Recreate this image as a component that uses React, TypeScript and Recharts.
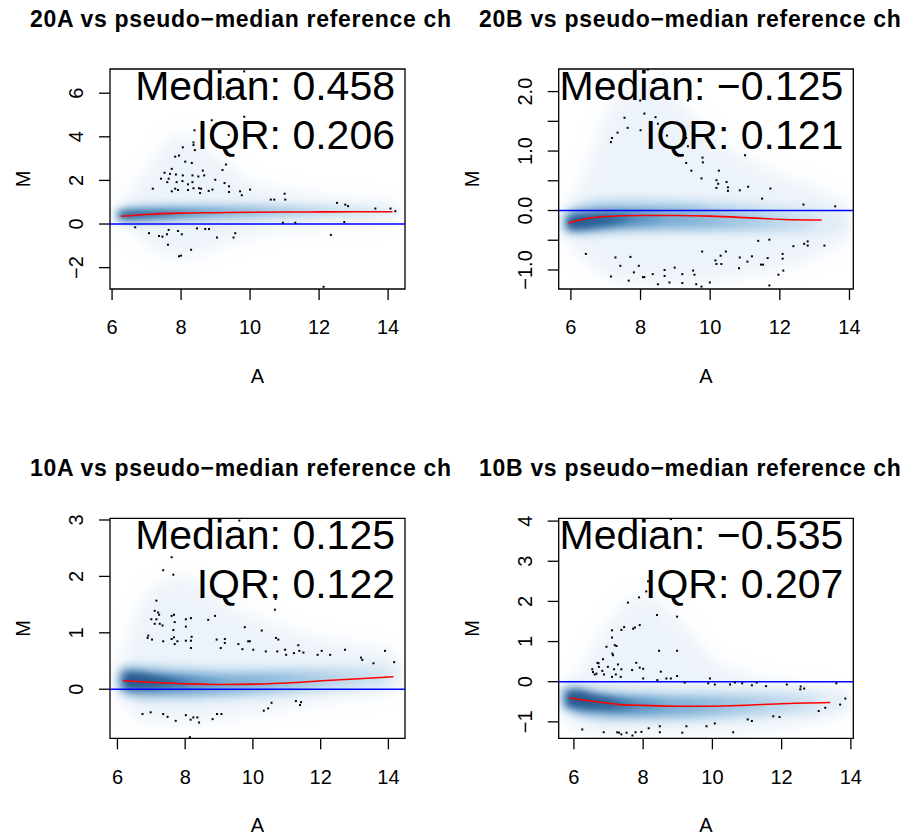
import React from "react";
import {
  ComposedChart,
  Area,
  Line,
  Scatter,
  XAxis,
  YAxis,
  ReferenceLine,
  ReferenceArea,
} from "recharts";

const FONT = '"Liberation Sans", Arial, Helvetica, sans-serif';

// ---- 20A ----
const P1_BAND_A = [6.1, 6.4, 7.0, 8.0, 9.0, 10.0, 11.0, 12.0, 13.0, 14.0, 14.4];
const P1_HALO_LO = [0.3, -0.1, -0.9, -1.6, -1.1, -0.6, -0.3, -0.2, -0.1, 0.1, 0.4];
const P1_HALO_HI = [0.6, 1.2, 2.5, 4.2, 3.2, 2.0, 1.6, 1.3, 1.1, 1.0, 0.8];
const P1_OUTER_LO = [0.2, 0.05, 0.05, 0.1, 0.15, 0.2, 0.25, 0.3, 0.3, 0.35, 0.45];
const P1_OUTER_HI = [0.6, 0.8, 0.9, 0.95, 0.95, 0.95, 0.9, 0.88, 0.85, 0.8, 0.7];
const P1_MID_A = [6.15, 6.4, 7.0, 8.0, 9.0, 10.0, 11.0, 12.0, 13.0, 14.0];
const P1_MID_LO = [0.25, 0.18, 0.2, 0.26, 0.32, 0.38, 0.42, 0.45, 0.48, 0.5];
const P1_MID_HI = [0.55, 0.66, 0.72, 0.75, 0.76, 0.75, 0.72, 0.7, 0.68, 0.65];
const P1_CORE_A = [6.2, 6.5, 7.0, 7.6, 8.4, 9.5];
const P1_CORE_LO = [0.3, 0.26, 0.3, 0.36, 0.42, 0.45];
const P1_CORE_HI = [0.5, 0.56, 0.58, 0.58, 0.6, 0.6];
const P1_LOESS_A = [6.26, 7.0, 8.0, 9.0, 10.0, 11.0, 12.0, 13.0, 14.13];
const P1_LOESS_M = [0.36, 0.44, 0.5, 0.52, 0.54, 0.55, 0.555, 0.56, 0.56];
const P1_POINTS = [
  [9.83, 7.0], [9.23, 5.82], [8.89, 4.76], [9.83, 4.92], [8.39, 4.3], [9.38, 4.09],
  [8.36, 3.74], [8.36, 3.62], [8.4, 3.39], [8.05, 3.52], [7.94, 3.14], [7.83, 3.09],
  [8.12, 2.86], [8.31, 2.8], [7.73, 2.53], [7.52, 2.35], [7.68, 2.3], [7.85, 2.27],
  [7.42, 2.08], [7.64, 2.08], [8.05, 2.23], [8.33, 2.23], [8.5, 2.18], [8.63, 2.45],
  [8.67, 2.23], [9.3, 2.73], [9.2, 2.48], [8.99, 2.03], [7.6, 1.92], [7.87, 1.92],
  [8.04, 1.97], [8.33, 1.92], [8.2, 1.82], [7.18, 1.62], [7.83, 1.62], [7.73, 1.5],
  [7.91, 1.56], [8.2, 1.56], [8.36, 1.64], [8.52, 1.64], [8.58, 1.62], [8.8, 1.52],
  [8.91, 1.58], [9.26, 1.88], [9.39, 1.73], [9.39, 1.47], [8.55, 1.42], [9.71, 1.5],
  [9.76, 1.32], [10.0, 1.58], [10.6, 1.12], [10.7, 1.12], [11.0, 1.39], [11.02, 1.12],
  [12.52, 0.97], [12.76, 0.89], [12.84, 0.82], [13.63, 0.71], [14.07, 0.71], [14.21, 0.59],
  [10.95, 0.06], [11.31, 0.06], [12.73, 0.09], [6.67, -0.15], [7.07, -0.42], [7.36, -0.55],
  [7.46, -0.58], [7.59, -0.47], [7.64, -0.27], [7.91, -0.32], [8.02, -0.47], [7.62, -0.95],
  [8.46, -0.2], [8.7, -0.23], [8.81, -0.23], [9.04, -0.62], [9.52, -0.62], [9.57, -0.42],
  [8.29, -1.18], [7.94, -1.48], [8.0, -1.45], [12.34, -0.5], [12.13, -2.88],
];

// ---- 20B ----
const P2_BAND_A = [5.75, 6.0, 6.5, 7.0, 8.0, 9.0, 10.0, 11.0, 12.0, 13.0, 14.0];
const P2_HALO_LO = [-0.3, -0.6, -0.9, -1.1, -1.25, -1.25, -1.2, -1.1, -1.0, -0.8, -0.5];
const P2_HALO_HI = [-0.1, 0.2, 0.8, 1.6, 2.2, 1.9, 1.3, 0.9, 0.6, 0.4, 0.1];
const P2_OUTER_LO = [-0.35, -0.4, -0.42, -0.4, -0.38, -0.38, -0.38, -0.38, -0.4, -0.42, -0.35];
const P2_OUTER_HI = [-0.05, 0.05, 0.15, 0.2, 0.22, 0.2, 0.18, 0.15, 0.12, 0.08, 0.0];
const P2_MID_A = [5.85, 6.0, 6.5, 7.0, 8.0, 9.0, 10.0, 11.0, 12.0, 13.0];
const P2_MID_LO = [-0.3, -0.34, -0.34, -0.32, -0.3, -0.3, -0.31, -0.32, -0.33, -0.32];
const P2_MID_HI = [-0.12, -0.04, 0.02, 0.05, 0.06, 0.06, 0.04, 0.01, -0.02, -0.06];
const P2_CORE_A = [5.9, 6.2, 6.6, 7.0, 7.8, 8.8];
const P2_CORE_LO = [-0.3, -0.32, -0.3, -0.27, -0.24, -0.22];
const P2_CORE_HI = [-0.12, -0.08, -0.05, -0.04, -0.03, -0.03];
const P2_LOESS_A = [5.93, 6.43, 7.0, 8.0, 9.03, 10.0, 11.04, 12.1, 13.2];
const P2_LOESS_M = [-0.21, -0.14, -0.1, -0.085, -0.085, -0.095, -0.12, -0.15, -0.16];
const P2_POINTS = [
  [8.21, 2.37], [9.36, 1.85], [7.99, 1.85], [7.54, 1.56], [8.11, 1.63], [8.43, 1.57],
  [7.63, 1.39], [7.34, 1.31], [7.18, 1.22], [7.15, 1.15], [8.0, 1.35], [8.5, 1.46],
  [8.76, 1.26], [9.31, 1.22], [9.36, 1.08], [9.22, 0.93], [9.78, 0.89], [9.79, 0.81],
  [11.0, 0.93], [9.31, 0.8], [9.46, 0.67], [9.75, 0.54], [10.25, 0.67], [10.18, 0.51],
  [10.23, 0.45], [10.18, 0.38], [10.47, 0.48], [10.51, 0.39], [10.51, 0.33], [10.85, 0.34],
  [11.09, 0.4], [11.73, 0.37], [11.49, 0.2], [12.68, 0.1], [13.59, 0.07],
  [6.43, -0.73], [7.28, -0.79], [7.71, -0.78], [7.42, -0.93], [7.95, -0.93], [7.81, -1.04],
  [7.15, -1.11], [7.66, -1.18], [8.07, -1.12], [8.11, -1.12], [8.35, -1.07], [8.5, -1.24],
  [8.69, -1.0], [8.69, -1.1], [8.83, -1.21], [8.98, -0.96], [9.2, -1.07], [9.2, -1.22],
  [9.51, -1.01], [9.55, -1.08], [9.6, -1.24], [9.75, -1.28], [9.99, -1.21], [9.77, -0.69],
  [10.15, -0.84], [10.18, -0.9], [10.3, -0.76], [10.45, -0.69], [10.32, -0.9], [10.85, -0.79],
  [10.83, -0.97], [11.07, -0.86], [11.2, -0.77], [11.38, -0.51], [11.46, -0.91], [11.52, -0.91],
  [11.65, -0.8], [11.7, -0.49], [11.7, -1.26], [11.96, -1.08], [12.08, -0.73], [12.08, -0.81],
  [12.1, -1.01], [12.39, -0.6], [12.7, -0.56], [12.8, -0.52], [12.8, -0.59], [13.28, -0.59],
];

// ---- 10A ----
const P3_BAND_A = [6.0, 6.3, 7.0, 8.0, 9.0, 10.0, 11.0, 12.0, 13.0, 14.0, 14.4];
const P3_HALO_LO = [0.05, -0.35, -0.6, -0.6, -0.55, -0.45, -0.35, -0.25, -0.15, -0.05, 0.05];
const P3_HALO_HI = [0.3, 0.9, 1.8, 2.0, 1.6, 1.3, 1.1, 0.9, 0.8, 0.7, 0.5];
const P3_OUTER_LO = [0.0, -0.15, -0.2, -0.2, -0.18, -0.15, -0.12, -0.08, -0.05, 0.0, 0.1];
const P3_OUTER_HI = [0.3, 0.45, 0.45, 0.42, 0.4, 0.4, 0.42, 0.44, 0.45, 0.45, 0.4];
const P3_MID_A = [6.05, 6.3, 7.0, 8.0, 9.0, 10.0, 11.0, 12.0, 13.0, 14.0];
const P3_MID_LO = [0.02, -0.06, -0.1, -0.1, -0.08, -0.05, -0.02, 0.02, 0.05, 0.08];
const P3_MID_HI = [0.28, 0.35, 0.32, 0.29, 0.27, 0.28, 0.3, 0.32, 0.34, 0.36];
const P3_CORE_A = [6.2, 6.5, 7.0, 7.5, 8.3, 9.3];
const P3_CORE_LO = [0.05, 0.0, 0.0, 0.02, 0.03, 0.04];
const P3_CORE_HI = [0.27, 0.3, 0.27, 0.23, 0.2, 0.18];
const P3_LOESS_A = [6.17, 7.1, 8.09, 9.07, 10.06, 11.04, 12.03, 13.01, 14.15];
const P3_LOESS_M = [0.15, 0.12, 0.095, 0.083, 0.09, 0.11, 0.15, 0.18, 0.22];
const P3_POINTS = [
  [9.6, 2.99], [7.6, 2.34], [7.35, 2.11], [7.65, 2.03], [7.15, 1.57], [7.1, 1.39],
  [7.2, 1.36], [7.0, 1.24], [7.15, 1.24], [7.23, 1.32], [7.1, 1.16], [7.25, 1.16],
  [7.33, 1.13], [7.6, 1.3], [7.67, 1.32], [7.69, 1.19], [7.65, 1.05], [7.35, 0.85],
  [7.6, 0.89], [7.69, 0.8], [7.77, 0.85], [7.67, 0.92], [6.89, 0.91], [6.91, 0.95],
  [7.02, 0.88], [8.02, 1.24], [8.17, 1.26], [8.02, 1.11], [8.19, 0.93], [8.17, 0.86],
  [8.17, 0.73], [8.02, 0.86], [8.68, 1.23], [8.88, 1.3], [8.93, 0.88], [9.17, 0.89],
  [9.05, 0.73], [9.17, 0.82], [9.76, 1.1], [10.26, 1.04], [9.57, 0.8], [9.69, 0.71],
  [9.86, 0.85], [9.91, 0.85], [10.01, 0.7], [10.67, 1.6], [10.65, 1.41], [10.38, 0.67],
  [10.68, 0.91], [10.75, 0.88], [10.72, 0.67], [10.95, 0.7], [10.98, 0.61], [11.21, 0.64],
  [11.34, 0.78], [11.37, 0.68], [11.49, 0.65], [11.91, 0.61], [12.03, 0.68], [12.28, 0.61],
  [12.72, 0.7], [13.19, 0.56], [13.23, 0.52], [13.56, 0.46], [13.9, 0.68], [14.17, 0.48],
  [6.74, -0.44], [6.98, -0.41], [7.35, -0.44], [7.48, -0.49], [7.72, -0.56], [8.02, -0.46],
  [8.16, -0.54], [8.24, -0.5], [8.36, -0.5], [8.41, -0.59], [8.14, -0.85], [8.81, -0.53],
  [8.94, -0.44], [9.07, -0.44], [10.32, -0.38], [10.45, -0.34], [10.55, -0.24], [11.27, -0.21],
  [11.39, -0.28], [11.42, -0.23],
];

// ---- 10B ----
const P4_BAND_A = [5.6, 5.9, 6.5, 7.0, 8.0, 9.0, 10.0, 11.0, 12.0, 13.0, 14.0];
const P4_HALO_LO = [-0.6, -1.1, -1.3, -1.35, -1.35, -1.35, -1.3, -1.25, -1.15, -1.0, -0.7];
const P4_HALO_HI = [-0.2, 0.0, 0.8, 1.5, 2.2, 1.6, 0.6, 0.2, 0.0, -0.1, -0.3];
const P4_OUTER_LO = [-0.6, -0.8, -0.95, -1.0, -1.0, -1.0, -0.98, -0.95, -0.9, -0.85, -0.7];
const P4_OUTER_HI = [-0.15, -0.05, -0.1, -0.15, -0.2, -0.22, -0.22, -0.22, -0.2, -0.2, -0.25];
const P4_MID_A = [5.7, 6.0, 6.5, 7.0, 8.0, 9.0, 10.0, 11.0, 12.0, 13.0];
const P4_MID_LO = [-0.6, -0.72, -0.8, -0.84, -0.86, -0.86, -0.84, -0.8, -0.76, -0.7];
const P4_MID_HI = [-0.2, -0.2, -0.28, -0.33, -0.36, -0.38, -0.37, -0.35, -0.33, -0.32];
const P4_CORE_A = [5.8, 6.1, 6.5, 7.0, 7.8, 8.8];
const P4_CORE_LO = [-0.6, -0.66, -0.7, -0.72, -0.75, -0.76];
const P4_CORE_HI = [-0.25, -0.2, -0.28, -0.36, -0.42, -0.45];
const P4_LOESS_A = [5.87, 6.36, 6.84, 7.32, 8.0, 8.96, 9.93, 10.89, 11.96, 13.4];
const P4_LOESS_M = [-0.4, -0.47, -0.52, -0.57, -0.59, -0.61, -0.61, -0.59, -0.55, -0.52];
const P4_POINTS = [
  [8.8, 4.05], [8.14, 2.5], [8.09, 2.25], [7.88, 2.1], [7.56, 1.97], [8.4, 1.66],
  [8.98, 1.62], [7.9, 1.41], [7.76, 1.35], [7.71, 1.32], [7.45, 1.36], [7.37, 1.29],
  [7.1, 1.28], [7.1, 1.1], [7.18, 0.91], [7.23, 0.89], [6.94, 0.87], [7.11, 0.7],
  [7.13, 0.66], [6.84, 0.56], [6.71, 0.46], [6.68, 0.47], [6.53, 0.31], [6.55, 0.24],
  [6.6, 0.18], [6.65, 0.2], [6.72, 0.37], [6.82, 0.27], [6.87, 0.18], [6.98, 0.37],
  [7.16, 0.31], [7.27, 0.43], [7.37, 0.31], [7.1, 0.12], [7.21, 0.18], [7.35, 0.12],
  [7.68, 0.29], [7.8, 0.47], [7.9, 0.35], [8.0, 0.32], [8.46, 0.77], [8.98, 0.77],
  [8.51, 0.25], [8.0, 0.08], [8.41, 0.04], [8.67, 0.08], [8.8, 0.08], [8.98, 0.14],
  [9.2, -0.02], [9.93, 0.08], [9.88, -0.04], [10.07, -0.07], [10.51, -0.07], [10.65, -0.02],
  [10.86, -0.04], [11.14, -0.09], [11.28, -0.02], [11.55, -0.11], [12.15, -0.07], [12.55, -0.12],
  [12.65, -0.17], [12.54, -0.19], [13.58, -0.04], [11.76, -0.86], [11.94, -0.88], [11.02, -0.94],
  [11.14, -0.98], [13.07, -0.73], [13.26, -0.65], [13.69, -0.57], [13.84, -0.42], [6.24, -1.19],
  [6.86, -1.26], [7.25, -1.26], [7.3, -1.27], [7.37, -1.31], [7.52, -1.27], [7.69, -1.34],
  [7.78, -1.26], [7.95, -1.25], [8.16, -1.16], [8.48, -1.26], [8.48, -1.11], [9.13, -1.27],
  [9.25, -1.11], [9.83, -1.11], [10.07, -1.04], [10.6, -1.26],
];

const X_TICKS = [6, 8, 10, 12, 14];

const band = (xs: number[], lo: number[], hi: number[]) =>
  xs.map((x, i) => ({ x, y: [lo[i], hi[i]] }));
const curve = (xs: number[], ys: number[]) => xs.map((x, i) => ({ x, y: ys[i] }));
const pts = (arr: number[][]) => arr.map(([x, y]) => ({ x, y }));

const minus = (s: string) => s.replace("-", "\u2212");
const intFmt = (v: number) => minus(String(v));
const halfFmt = (v: number) => (Number.isInteger(v) ? minus(v.toFixed(1)) : "");

const panels = [
  {
    key: "20A", left: 0, top: 0, titleX: 30,
    title: "20A vs pseudo\u2212median reference ch",
    median: "Median: 0.458", iqr: "IQR: 0.206",
    plot: { left: 110, right: 405, top: 69, bottom: 289 },
    xDomain: [5.94, 14.49], yDomain: [-2.98, 7.11],
    yTicks: [-2, 0, 2, 4, 6], yFmt: intFmt,
    halo: band(P1_BAND_A, P1_HALO_LO, P1_HALO_HI),
    outer: band(P1_BAND_A, P1_OUTER_LO, P1_OUTER_HI),
    mid: band(P1_MID_A, P1_MID_LO, P1_MID_HI),
    core: band(P1_CORE_A, P1_CORE_LO, P1_CORE_HI),
    loess: curve(P1_LOESS_A, P1_LOESS_M),
    points: pts(P1_POINTS),
  },
  {
    key: "20B", left: 455, top: 0, titleX: 24,
    title: "20B vs pseudo\u2212median reference ch",
    median: "Median: \u22120.125", iqr: "IQR: 0.121",
    plot: { left: 103.7, right: 398.3, top: 69, bottom: 289 },
    xDomain: [5.65, 14.11], yDomain: [-1.32, 2.38],
    yTicks: [-1, -0.5, 0, 0.5, 1, 1.5, 2], yFmt: halfFmt,
    halo: band(P2_BAND_A, P2_HALO_LO, P2_HALO_HI),
    outer: band(P2_BAND_A, P2_OUTER_LO, P2_OUTER_HI),
    mid: band(P2_MID_A, P2_MID_LO, P2_MID_HI),
    core: band(P2_CORE_A, P2_CORE_LO, P2_CORE_HI),
    loess: curve(P2_LOESS_A, P2_LOESS_M),
    points: pts(P2_POINTS),
  },
  {
    key: "10A", left: 0, top: 419, titleX: 30,
    title: "10A vs pseudo\u2212median reference ch",
    median: "Median: 0.125", iqr: "IQR: 0.122",
    plot: { left: 110, right: 405, top: 99.3, bottom: 319.3 },
    xDomain: [5.78, 14.49], yDomain: [-0.87, 3.03],
    yTicks: [0, 1, 2, 3], yFmt: intFmt,
    halo: band(P3_BAND_A, P3_HALO_LO, P3_HALO_HI),
    outer: band(P3_BAND_A, P3_OUTER_LO, P3_OUTER_HI),
    mid: band(P3_MID_A, P3_MID_LO, P3_MID_HI),
    core: band(P3_CORE_A, P3_CORE_LO, P3_CORE_HI),
    loess: curve(P3_LOESS_A, P3_LOESS_M),
    points: pts(P3_POINTS),
  },
  {
    key: "10B", left: 455, top: 419, titleX: 24,
    title: "10B vs pseudo\u2212median reference ch",
    median: "Median: \u22120.535", iqr: "IQR: 0.207",
    plot: { left: 103.7, right: 398.3, top: 99.3, bottom: 319.3 },
    xDomain: [5.56, 14.07], yDomain: [-1.41, 4.07],
    yTicks: [-1, 0, 1, 2, 3, 4], yFmt: intFmt,
    halo: band(P4_BAND_A, P4_HALO_LO, P4_HALO_HI),
    outer: band(P4_BAND_A, P4_OUTER_LO, P4_OUTER_HI),
    mid: band(P4_MID_A, P4_MID_LO, P4_MID_HI),
    core: band(P4_CORE_A, P4_CORE_LO, P4_CORE_HI),
    loess: curve(P4_LOESS_A, P4_LOESS_M),
    points: pts(P4_POINTS),
  },
];

const W = 455;
const H = 419;
const Y_AXIS_W = 60;
const X_AXIS_H = 50;

const Dot = (props: any) => (
  <rect x={props.cx - 1} y={props.cy - 1} width={2} height={2} fill="#000" />
);

const makeYTick = (fmt: (v: number) => string) => (props: any) => {
  const { x, y, payload } = props;
  return (
    <text
      x={x}
      y={y}
      transform={`rotate(-90 ${x} ${y})`}
      textAnchor="middle"
      fontSize={20}
      fontFamily={FONT}
      fill="#000"
    >
      {fmt(payload.value)}
    </text>
  );
};

const Panel = ({ p }: { p: (typeof panels)[number] }) => {
  const { plot } = p;
  const cx = (plot.left + plot.right) / 2;
  const cy = (plot.top + plot.bottom) / 2;
  return (
    <div style={{ position: "absolute", left: p.left, top: p.top, width: W, height: H }}>
      <ComposedChart
        width={W}
        height={H}
        margin={{
          top: plot.top,
          left: plot.left - Y_AXIS_W,
          right: W - plot.right,
          bottom: H - plot.bottom - X_AXIS_H,
        }}
      >
        <XAxis
          type="number"
          dataKey="x"
          domain={p.xDomain}
          allowDataOverflow
          ticks={X_TICKS}
          interval={0}
          height={X_AXIS_H}
          axisLine={false}
          tickLine={{ stroke: "#000", strokeWidth: 1.3 }}
          tickSize={11}
          tickMargin={20}
          tick={{ fontSize: 20, fill: "#000", fontFamily: FONT }}
        />
        <YAxis
          type="number"
          dataKey="y"
          domain={p.yDomain}
          allowDataOverflow
          ticks={p.yTicks}
          interval={0}
          width={Y_AXIS_W}
          axisLine={false}
          tickLine={{ stroke: "#000", strokeWidth: 1.3 }}
          tickSize={11}
          tickMargin={16}
          tick={makeYTick(p.yFmt)}
        />
        <Area
          className="cloud-soft"
          data={p.halo}
          dataKey="y"
          type="monotone"
          stroke="none"
          fill="#c6dbef"
          fillOpacity={0.32}
          isAnimationActive={false}
        />
        <Area
          className="cloud"
          data={p.outer}
          dataKey="y"
          type="monotone"
          stroke="none"
          fill="url(#outerFade)"
          isAnimationActive={false}
        />
        <Area
          className="cloud"
          data={p.mid}
          dataKey="y"
          type="monotone"
          stroke="none"
          fill="url(#midFade)"
          isAnimationActive={false}
        />
        <Area
          className="cloud-core"
          data={p.core}
          dataKey="y"
          type="monotone"
          stroke="none"
          fill="url(#coreFade)"
          isAnimationActive={false}
        />
        <ReferenceLine y={0} stroke="#0000ff" strokeWidth={1.6} />
        <Line
          data={p.loess}
          dataKey="y"
          type="monotone"
          stroke="#ff0000"
          strokeWidth={1.6}
          dot={false}
          isAnimationActive={false}
        />
        <Scatter data={p.points} dataKey="y" shape={Dot} isAnimationActive={false} />
        <ReferenceArea
          x1={p.xDomain[0]}
          x2={p.xDomain[1]}
          y1={p.yDomain[0]}
          y2={p.yDomain[1]}
          fill="none"
          stroke="#000"
          strokeWidth={1.3}
          ifOverflow="visible"
        />
      </ComposedChart>
      <svg
        width={W}
        height={H}
        style={{ position: "absolute", left: 0, top: 0, pointerEvents: "none" }}
        fontFamily={FONT}
      >
        <text x={p.titleX} y={plot.top - 42} fontSize={23} fontWeight="bold" letterSpacing={0.7}>
          {p.title}
        </text>
        <text x={plot.right - 10} y={plot.top + 31} textAnchor="end" fontSize={41}>
          {p.median}
        </text>
        <text x={plot.right - 10} y={plot.top + 80} textAnchor="end" fontSize={41}>
          {p.iqr}
        </text>
        <text x={cx} y={plot.bottom + 94} textAnchor="middle" fontSize={20}>
          A
        </text>
        <text
          x={plot.left - 80}
          y={cy}
          textAnchor="middle"
          fontSize={20}
          transform={`rotate(-90 ${plot.left - 80} ${cy})`}
        >
          M
        </text>
      </svg>
    </div>
  );
};

export default function App() {
  return (
    <div
      style={{
        position: "absolute",
        left: 0,
        top: 0,
        width: 911,
        height: 838,
        background: "#fff",
        overflow: "hidden",
        fontFamily: FONT,
      }}
    >
      <style>{`
        .cloud .recharts-area-area { filter: url(#cloudBlur); }
        .cloud-core .recharts-area-area { filter: url(#cloudBlurCore); }
        .cloud-soft .recharts-area-area { filter: url(#cloudBlurSoft); }
      `}</style>
      <svg width={0} height={0} style={{ position: "absolute" }}>
        <defs>
          <filter id="cloudBlur" x="-20%" y="-100%" width="140%" height="300%">
            <feGaussianBlur stdDeviation="4" />
          </filter>
          <filter id="cloudBlurCore" x="-20%" y="-100%" width="140%" height="300%">
            <feGaussianBlur stdDeviation="3" />
          </filter>
          <filter id="cloudBlurSoft" x="-20%" y="-50%" width="140%" height="200%">
            <feGaussianBlur stdDeviation="9" />
          </filter>
          <linearGradient id="coreFade" x1="0" y1="0" x2="1" y2="0">
            <stop offset="0%" stopColor="#08306b" stopOpacity={1} />
            <stop offset="40%" stopColor="#083a75" stopOpacity={0.95} />
            <stop offset="100%" stopColor="#2171b5" stopOpacity={0} />
          </linearGradient>
          <linearGradient id="midFade" x1="0" y1="0" x2="1" y2="0">
            <stop offset="0%" stopColor="#1f63a3" stopOpacity={1} />
            <stop offset="50%" stopColor="#3a86c1" stopOpacity={0.85} />
            <stop offset="100%" stopColor="#6baed6" stopOpacity={0.2} />
          </linearGradient>
          <linearGradient id="outerFade" x1="0" y1="0" x2="1" y2="0">
            <stop offset="0%" stopColor="#8fbfdf" stopOpacity={0.85} />
            <stop offset="60%" stopColor="#a6cde6" stopOpacity={0.65} />
            <stop offset="100%" stopColor="#c6dbef" stopOpacity={0.35} />
          </linearGradient>
        </defs>
      </svg>
      {panels.map((p) => (
        <Panel key={p.key} p={p} />
      ))}
    </div>
  );
}
